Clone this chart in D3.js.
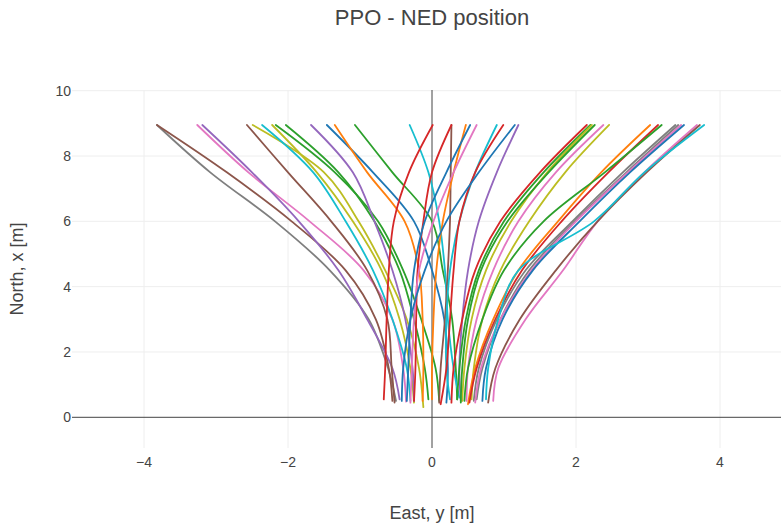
<!DOCTYPE html>
<html><head><meta charset="utf-8">
<script src="https://cdn.jsdelivr.net/npm/d3@7"></script>
<style>body{margin:0;background:#fff}svg{display:block}</style>
</head><body><div id="chart"></div>
<script>
// ---------- data ----------
const chartTitle = "PPO - NED position";
const xTitle = "East, y [m]";
const yTitle = "North, x [m]";
const xTicks = [-4, -2, 0, 2, 4];
const yTicks = [0, 2, 4, 6, 8, 10];
// North levels (m) at which east positions were read
const northLevels = [8.95, 7.5, 6, 4.5, 3, 1.5];
// east positions (m) of every run at those levels
const eastRuns = [
  [-3.82, -3.08, -2.18, -1.42, -0.88, -0.61],
  [-3.82, -2.85, -1.95, -1.2, -0.78, -0.6],
  [-3.26, -2.55, -1.7, -0.95, -0.55, -0.4],
  [-3.19, -2.5, -1.85, -1.3, -0.9, -0.55],
  [-2.57, -2.0, -1.4, -0.9, -0.62, -0.56],
  [-2.49, -1.5, -1.02, -0.65, -0.35, -0.18],
  [-2.36, -1.65, -1.2, -0.82, -0.55, -0.35],
  [-2.22, -1.6, -1.1, -0.7, -0.45, -0.3],
  [-2.17, -1.35, -0.75, -0.4, -0.15, 0.05],
  [-2.03, -1.3, -0.8, -0.45, -0.25, -0.1],
  [-1.68, -1.1, -0.8, -0.55, -0.37, -0.27],
  [-1.46, -0.82, -0.25, 0.0, 0.17, 0.22],
  [-1.35, -0.9, -0.38, -0.18, -0.13, -0.12],
  [-1.07, -0.55, 0.0, 0.15, 0.28, 0.33],
  [-0.31, -0.05, 0.1, 0.18, 0.22, 0.3],
  [0.01, -0.32, -0.53, -0.6, -0.63, -0.65],
  [0.27, 0.26, 0.25, 0.22, 0.18, 0.12],
  [0.27, 0.0, -0.12, -0.2, -0.22, -0.23],
  [0.47, 0.3, 0.15, 0.06, 0.02, 0.0],
  [0.53, 0.2, -0.1, -0.25, -0.3, -0.33],
  [0.62, 0.3, 0.02, -0.18, -0.25, -0.28],
  [0.9, 0.6, 0.38, 0.25, 0.2, 0.2],
  [0.99, 0.6, 0.38, 0.3, 0.25, 0.2],
  [1.15, 0.65, 0.2, -0.1, -0.3, -0.4],
  [1.2, 0.9, 0.65, 0.5, 0.42, 0.38],
  [2.15, 1.5, 0.95, 0.6, 0.42, 0.3],
  [2.2, 1.55, 1.0, 0.65, 0.47, 0.38],
  [2.22, 1.6, 1.1, 0.75, 0.55, 0.45],
  [2.26, 1.62, 1.05, 0.68, 0.5, 0.42],
  [2.38, 1.72, 1.2, 0.85, 0.62, 0.5],
  [2.46, 1.85, 1.35, 0.95, 0.7, 0.58],
  [3.03, 2.35, 1.75, 1.2, 0.85, 0.6],
  [3.14, 2.45, 1.8, 1.25, 0.88, 0.62],
  [3.19, 2.4, 1.55, 1.0, 0.7, 0.5],
  [3.38, 2.65, 1.95, 1.3, 0.9, 0.65],
  [3.42, 2.7, 1.98, 1.35, 0.95, 0.7],
  [3.46, 2.72, 2.0, 1.38, 0.95, 0.68],
  [3.5, 2.75, 2.05, 1.4, 0.98, 0.75],
  [3.68, 2.95, 2.3, 1.82, 1.3, 0.92],
  [3.72, 2.98, 2.3, 1.72, 1.22, 0.88],
  [3.78, 2.95, 2.25, 1.2, 0.92, 0.78]
];
// final point of every run: [east, north]
const endPoints = [
  [-0.5, 0.5], [-0.55, 0.5], [-0.36, 0.48], [-0.45, 0.55], [-0.52, 0.45],
  [-0.12, 0.31], [-0.3, 0.5], [-0.25, 0.45], [0.1, 0.5], [-0.05, 0.55],
  [-0.25, 0.5], [0.2, 0.45], [-0.13, 0.5], [0.35, 0.55], [0.38, 0.6],
  [-0.67, 0.55], [0.1, 0.45], [-0.25, 0.5], [0.0, 0.55], [-0.35, 0.5],
  [-0.3, 0.45], [0.25, 0.55], [0.12, 0.4], [-0.42, 0.5], [0.4, 0.5],
  [0.27, 0.45], [0.35, 0.55], [0.42, 0.5], [0.4, 0.45], [0.48, 0.5],
  [0.55, 0.55], [0.5, 0.4], [0.52, 0.45], [0.45, 0.5], [0.58, 0.5],
  [0.62, 0.55], [0.6, 0.45], [0.7, 0.5], [0.85, 0.5], [0.78, 0.45],
  [0.75, 0.55]
];

// ---------- style ----------
const palette = ["#1f77b4","#ff7f0e","#2ca02c","#d62728","#9467bd","#8c564b","#e377c2","#7f7f7f","#bcbd22","#17becf"];
// palette index per run (blue0 orange1 green2 red3 purple4 brown5 pink6 gray7 olive8 cyan9)
const runColor = [7,5,6,4,5,8,9,8,2,2,4,0,1,2,9,3,5,3,1,0,6,9,3,0,4,3,2,8,2,6,8,1,3,2,7,7,6,0,6,5,9];

const W = 781, H = 528;
const svg = d3.select("#chart").append("svg").attr("width", W).attr("height", H)
  .style("font-family", "'Liberation Sans', Arial, sans-serif");
svg.append("rect").attr("width", W).attr("height", H).attr("fill", "#fff");

const x = d3.scaleLinear().domain([-5, 5]).range([72, 792]);
const y = d3.scaleLinear().domain([-0.94, 10]).range([448, 90.7]);

// grid
const g = svg.append("g");
g.selectAll(".vg").data(xTicks.filter(d => d !== 0)).join("line")
  .attr("x1", d => x(d)).attr("x2", d => x(d)).attr("y1", y(10) - 0.7).attr("y2", 448)
  .attr("stroke", "#eee").attr("stroke-width", 1);
g.selectAll(".hg").data(yTicks.filter(d => d !== 0)).join("line")
  .attr("x1", 72).attr("x2", W).attr("y1", d => y(d)).attr("y2", d => y(d))
  .attr("stroke", "#eee").attr("stroke-width", 1);

// zero lines
g.append("line").attr("x1", x(0)).attr("x2", x(0)).attr("y1", y(10) - 0.7).attr("y2", 448)
  .attr("stroke", "#444").attr("stroke-width", 1);
g.append("line").attr("x1", 72).attr("x2", W).attr("y1", y(0)).attr("y2", y(0))
  .attr("stroke", "#444").attr("stroke-width", 1);

// traces
svg.append("clipPath").attr("id", "clip").append("rect")
  .attr("x", 72).attr("y", 90).attr("width", 720).attr("height", 358);
const line = d3.line().x(d => x(d[0])).y(d => y(d[1])).curve(d3.curveCatmullRom.alpha(0.5));
const runs = eastRuns.map((r, i) => r.map((e, k) => [e, northLevels[k]]).concat([endPoints[i]]));
svg.append("g").attr("clip-path", "url(#clip)")
  .selectAll("path").data(runs).join("path")
  .attr("d", line).attr("fill", "none")
  .attr("stroke", (d, i) => palette[runColor[i]])
  .attr("stroke-width", 1.8).attr("stroke-linejoin", "round").attr("stroke-linecap", "round");

// tick labels
const fmt = v => (v < 0 ? "\u2212" + Math.abs(v) : String(v));
svg.append("g").selectAll("text").data(xTicks).join("text")
  .attr("x", d => x(d)).attr("y", 462).attr("dy", "0.35em").attr("text-anchor", "middle")
  .attr("font-size", 14).attr("fill", "#444").text(fmt);
svg.append("g").selectAll("text").data(yTicks).join("text")
  .attr("x", 71).attr("y", d => y(d)).attr("dy", "0.35em").attr("text-anchor", "end")
  .attr("font-size", 14).attr("fill", "#444").text(fmt);

// titles
svg.append("text").attr("x", 432).attr("y", 17).attr("dy", "0.35em").attr("text-anchor", "middle")
  .attr("font-size", 22).attr("fill", "#444").text(chartTitle);
svg.append("text").attr("x", 432).attr("y", 513).attr("dy", "0.35em").attr("text-anchor", "middle")
  .attr("font-size", 18).attr("fill", "#444").text(xTitle);
svg.append("text").attr("transform", "translate(17,269) rotate(-90)").attr("dy", "0.35em")
  .attr("text-anchor", "middle").attr("font-size", 18).attr("fill", "#444").text(yTitle);
</script></body></html>
